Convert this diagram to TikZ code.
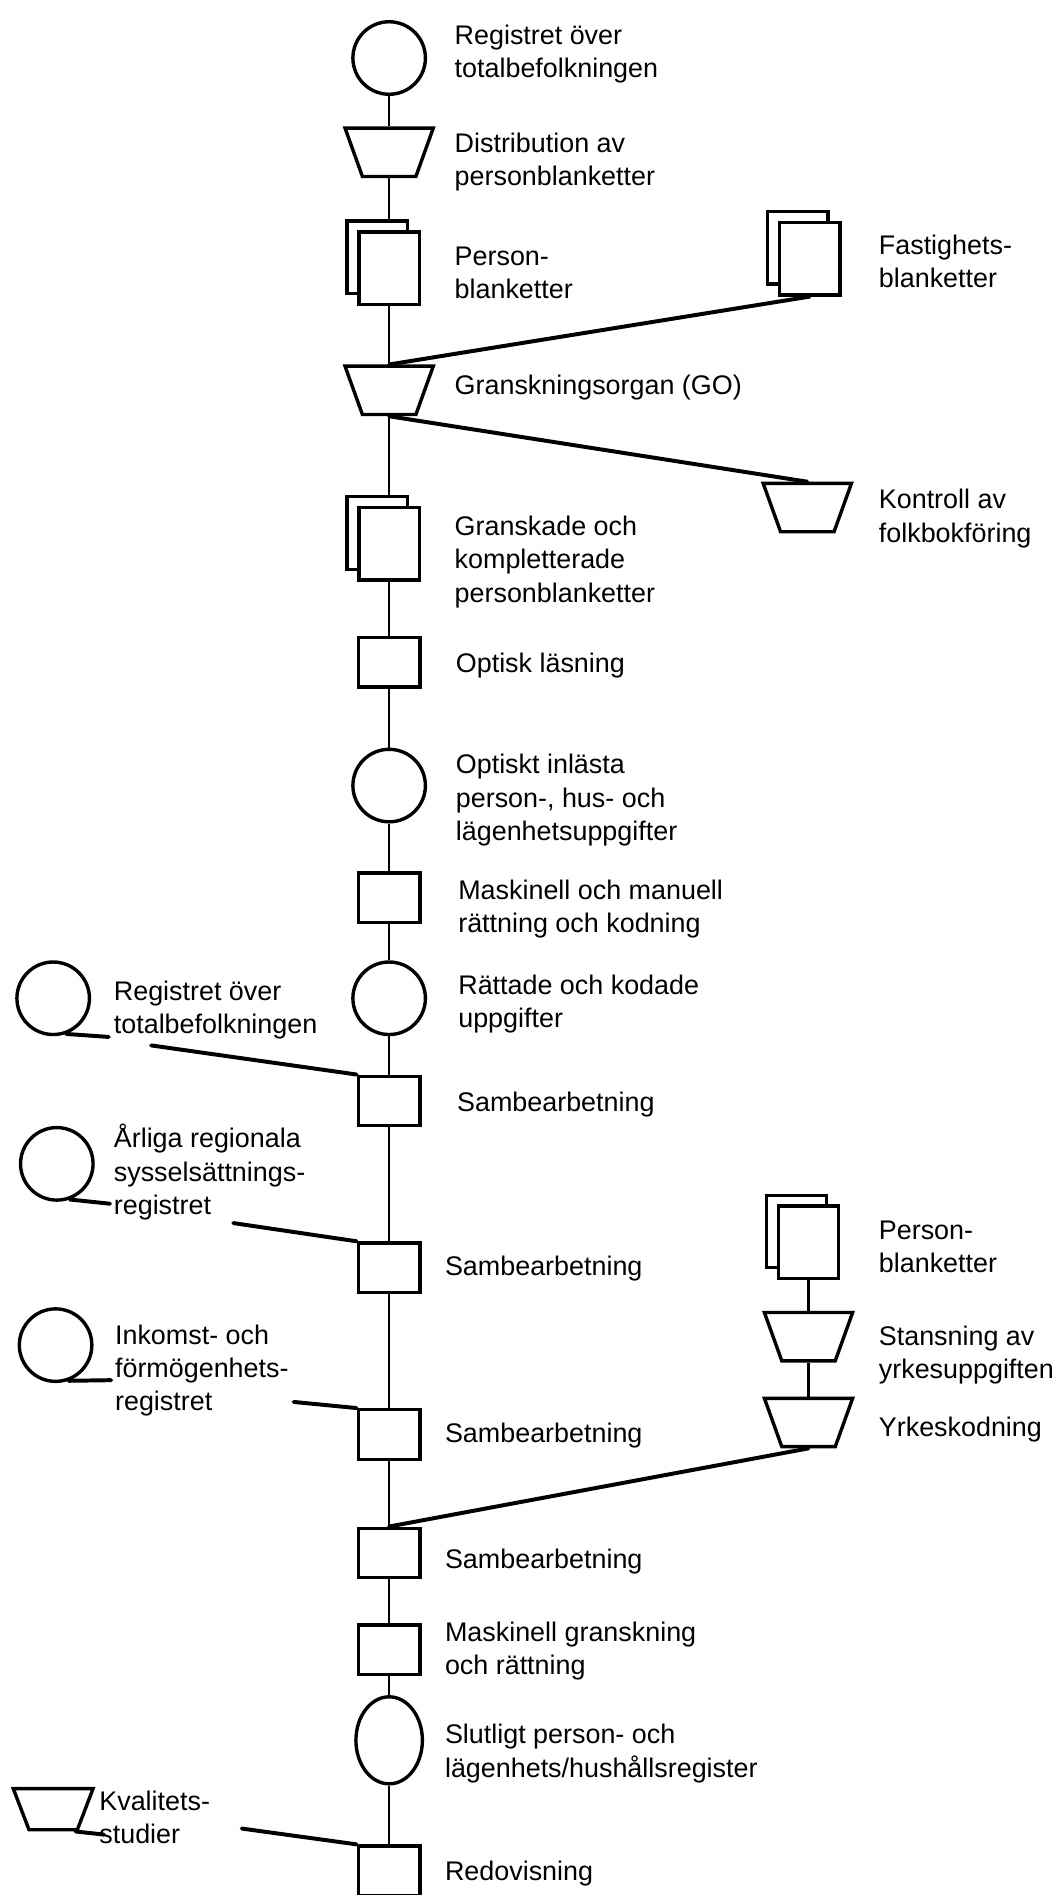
\documentclass[tikz,border=0pt]{standalone}
\usepackage{fontspec}
\setmainfont{Liberation Sans}
\usepackage{tikz}
\usetikzlibrary{shapes.geometric}
\tikzstyle{store} = [circle,draw,line width=2.4pt,fill=white,minimum size=1.8cm,inner sep=0pt]
\tikzstyle{tape} = [ellipse,draw,line width=2.4pt,fill=white,minimum width=1.65cm,minimum height=2.16cm,inner sep=0pt]
\tikzstyle{proc} = [rectangle,draw,line width=2.4pt,fill=white,minimum width=1.53cm,minimum height=1.23cm,inner sep=0pt]
\tikzstyle{sheet} = [rectangle,draw,line width=2.4pt,fill=white,minimum width=1.5cm,minimum height=1.8cm,inner sep=0pt]
\tikzstyle{funnel} = [trapezium,draw,line width=2.4pt,fill=white,shape border rotate=180,trapezium left angle=72,trapezium right angle=72,trapezium stretches=true,minimum width=2.19cm,minimum height=1.2cm,inner sep=1pt]
\tikzstyle{flow} = [line width=1.8pt]
\tikzstyle{link} = [line width=2.8pt,line cap=round]
\tikzstyle{lbl} = [anchor=west,align=left,inner sep=0pt]

\begin{document}
\begin{tikzpicture}[x=0.03cm,y=-0.03cm,font=\fontsize{19}{23.5}\selectfont]
\useasboundingbox (0,0) rectangle (878,1568);

% Main column
\node[store] (reg) at (322,48) {};
\node[lbl] (reg-t) at (376,45) {Registret över\\totalbefolkningen};
\node[funnel] (dist) at (322,126) {};
\node[lbl] (dist-t) at (376,134) {Distribution av\\personblanketter};
\node[sheet] (pb1b) at (312,213) {};
\node[sheet] (pb1) at (322,222) {};
\node[lbl] (pb1-t) at (376,226) {Person-\\blanketter};
\node[funnel] (go) at (322,323) {};
\node[lbl] (go-t) at (376,321) {Granskningsorgan (GO)};
\node[sheet] (gkb) at (312,441) {};
\node[sheet] (gk) at (322,450) {};
\node[lbl] (gk-t) at (376,465) {Granskade och\\kompletterade\\personblanketter};
\node[proc] (opt) at (322,548) {};
\node[lbl] (opt-t) at (377,551) {Optisk läsning};
\node[store] (oinl) at (322,650) {};
\node[lbl] (oinl-t) at (377,662) {Optiskt inlästa\\person-, hus- och\\lägenhetsuppgifter};
\node[proc] (mm) at (322,743) {};
\node[lbl] (mm-t) at (379,752) {Maskinell och manuell\\rättning och kodning};
\node[store] (ratt) at (322,826) {};
\node[lbl] (ratt-t) at (379,831) {Rättade och kodade\\uppgifter};
\node[proc] (sam1) at (322,911) {};
\node[lbl] (sam1-t) at (378,914) {Sambearbetning};
\node[proc] (sam2) at (322,1049) {};
\node[lbl] (sam2-t) at (368,1050) {Sambearbetning};
\node[proc] (sam3) at (322,1187) {};
\node[lbl] (sam3-t) at (368,1188) {Sambearbetning};
\node[proc] (sam4) at (322,1285) {};
\node[lbl] (sam4-t) at (368,1292) {Sambearbetning};
\node[proc] (mg) at (322,1365) {};
\node[lbl] (mg-t) at (368,1366) {Maskinell granskning\\och rättning};
\node[tape] (slut) at (322,1440) {};
\node[lbl] (slut-t) at (368,1451) {Slutligt person- och\\lägenhets/hushållsregister};
\node[proc] (redov) at (322,1548) {};
\node[lbl] (redov-t) at (368,1550) {Redovisning};

% Right side
\node[sheet] (fastb) at (660,205) {};
\node[sheet] (fast) at (670,214) {};
\node[lbl] (fast-t) at (727,216) {Fastighets-\\blanketter};
\node[funnel] (kon) at (668,420) {};
\node[lbl] (kon-t) at (727,429) {Kontroll av\\folkbokföring};
\node[sheet] (pb2b) at (659,1019) {};
\node[sheet] (pb2) at (669,1028) {};
\node[lbl] (pb2-t) at (727,1032) {Person-\\blanketter};
\node[funnel] (stans) at (669,1106) {};
\node[lbl] (stans-t) at (727,1121) {Stansning av\\yrkesuppgiften};
\node[funnel] (yrk) at (669,1177) {};
\node[lbl] (yrk-t) at (727,1183) {Yrkeskodning};

% Left side
\node[store] (lc1) at (44,826) {};
\node[lbl] (lc1-t) at (94,836) {Registret över\\totalbefolkningen};
\node[store] (lc2) at (47,963) {};
\node[lbl] (lc2-t) at (94,970) {Årliga regionala\\sysselsättnings-\\registret};
\node[store] (lc3) at (46,1113) {};
\node[lbl] (lc3-t) at (95,1134) {Inkomst- och\\förmögenhets-\\registret};
\node[funnel,minimum width=1.98cm,minimum height=1.02cm] (kval) at (44,1497) {};
\node[lbl] (kval-t) at (82,1504) {Kvalitets-\\studier};

\coordinate (t1) at (90,858);
\coordinate (s1) at (125,865);
\coordinate (t2) at (91,996);
\coordinate (s2) at (193,1012);
\coordinate (t3) at (92,1142);
\coordinate (s3) at (243,1160);
\coordinate (t4) at (86,1518);
\coordinate (s4) at (200,1513);

% Connectors
\draw[flow] (reg) -- (dist);
\draw[flow] (dist) -- (dist |- pb1b.north);
\draw[flow] (pb1) -- (go);
\draw[flow] (go) -- (go |- gkb.north);
\draw[flow] (gk) -- (opt);
\foreach \a/\b in {opt/oinl,oinl/mm,mm/ratt,ratt/sam1,sam1/sam2,sam2/sam3,sam3/sam4,sam4/mg,mg/slut,slut/redov}
  \draw[flow] (\a) -- (\b);
\draw[flow] (pb2) -- (stans);
\draw[flow] (stans) -- (yrk);

\draw[link] (fast.south) -- (go.north);
\draw[link] (go.south) -- (kon.north);
\draw[link] (yrk.south) -- (sam4.north);

\draw[link] (lc1.-70) -- (t1);
\draw[link] (s1) -- (sam1.north west);
\draw[link] (lc2.-70) -- (t2);
\draw[link] (s2) -- (sam2.north west);
\draw[link] (lc3.-70) -- (t3);
\draw[link] (s3) -- (sam3.north west);
\draw[link] (kval.south east) -- (t4);
\draw[link] (s4) -- (redov.north west);
\end{tikzpicture}
\end{document}
